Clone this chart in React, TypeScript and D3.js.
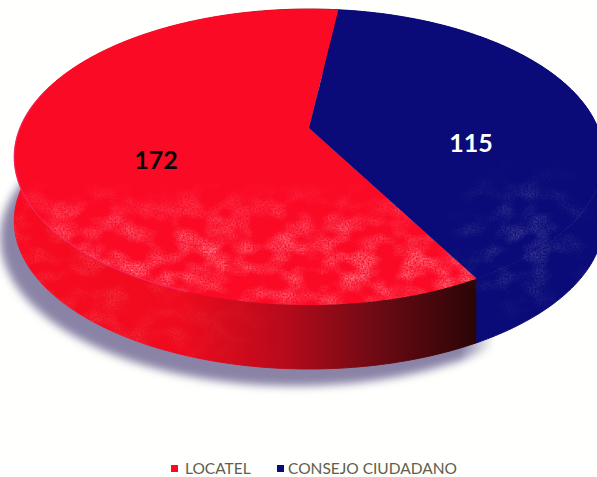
import React from "react";
import * as d3 from "d3";

const categories = ["CONSEJO CIUDADANO", "LOCATEL"];
const seriesValues = [115, 172];
const legendOrder = ["LOCATEL", "CONSEJO CIUDADANO"];
const sliceColors: Record<string, string> = { LOCATEL: "#fb0a26", "CONSEJO CIUDADANO": "#0a0a78" };

const WIDTH = 597;
const HEIGHT = 477;
const rad = (deg: number) => (deg * Math.PI) / 180;

// Tilted-disc projection: the far edge shrinks, so the pie's centre sits above the ellipse's.
const CX = 309;
const CY = 128;
const RX = 289;
const RY = 142.3;
const TILT = 0.196;
const DEPTH = 64;

type Pt = [number, number];
const project = (angle: number, r = 1): Pt => {
  const X = r * Math.sin(angle);
  const Y = r * Math.cos(angle);
  const w = 1 + TILT * Y;
  return [CX + (RX * X) / w, CY - (RY * Y) / w];
};
const sweep = (a0: number, a1: number): number[] => [...d3.range(a0, a1, 0.01), a1];
const line = d3.line<Pt>().x((d) => d[0]).y((d) => d[1]);
const down = (p: Pt, dy = DEPTH): Pt => [p[0], p[1] + dy];

const pieLayout = d3
  .pie<number>()
  .sort(null)
  .startAngle(rad(7))
  .endAngle(rad(367));
const slices = pieLayout(seriesValues).map((s, i) => ({ ...s, name: categories[i] }));

const topPath = (a0: number, a1: number) =>
  line([project(0, 0), ...sweep(a0, a1).map((a) => project(a))])! + "Z";
const sidePath = (a0: number, a1: number) => {
  const rim = sweep(a0, a1).map((a) => project(a));
  return line([...rim, ...rim.slice().reverse().map((p) => down(p))])! + "Z";
};
const fullRim = sweep(0, Math.PI * 2).map((a) => project(a));
const baseOutline = line(fullRim.map((p) => down(p)))! + "Z";

const redSlice = slices[1];
const blueSlice = slices[0];
const labelPositions: Record<string, Pt> = { LOCATEL: [156, 169], "CONSEJO CIUDADANO": [471, 152] };

export default function App() {
  return (
    <svg
      width={WIDTH}
      height={HEIGHT}
      viewBox={`0 0 ${WIDTH} ${HEIGHT}`}
      style={{ position: "fixed", left: 0, top: 0, display: "block", background: "#fffffd" }}
    >
      <defs>
        <linearGradient id="redWall" gradientUnits="userSpaceOnUse" x1="20" x2="475" y1="0" y2="0">
          <stop offset="0" stopColor="#f80a20" />
          <stop offset="0.35" stopColor="#f00a1e" />
          <stop offset="0.58" stopColor="#b80a1b" />
          <stop offset="0.78" stopColor="#6e0a14" />
          <stop offset="1" stopColor="#2a0506" />
        </linearGradient>
        <linearGradient id="shadowFade" gradientUnits="userSpaceOnUse" x1="460" x2="495" y1="0" y2="0">
          <stop offset="0" stopColor="#fff" />
          <stop offset="1" stopColor="#000" />
        </linearGradient>
        <mask id="shadowMask" maskUnits="userSpaceOnUse" x="0" y="0" width={WIDTH} height={HEIGHT}>
          <rect width={WIDTH} height={HEIGHT} fill="url(#shadowFade)" />
        </mask>
        <filter id="soft" x="-10%" y="-10%" width="120%" height="120%">
          <feGaussianBlur stdDeviation="4.5" />
        </filter>
        <filter id="mottle" x="0" y="0" width="100%" height="100%">
          <feTurbulence type="fractalNoise" baseFrequency="0.04 0.055" numOctaves="2" seed="11" result="coarse" />
          <feTurbulence type="fractalNoise" baseFrequency="0.6" numOctaves="1" seed="3" result="fine" />
          <feColorMatrix in="coarse" type="matrix" values="0 0 0 0 1  0 0 0 0 1  0 0 0 0 1  2.2 0 0 0 -0.85" result="coarseA" />
          <feColorMatrix in="fine" type="matrix" values="0 0 0 0 1  0 0 0 0 1  0 0 0 0 1  2 0 0 0 -0.45" result="fineA" />
          <feComposite in="fineA" in2="coarseA" operator="in" result="grain" />
          <feGaussianBlur in="grain" stdDeviation="0.7" result="soft" />
          <feComposite in="soft" in2="SourceGraphic" operator="in" />
        </filter>
        <linearGradient id="bandFade" gradientUnits="userSpaceOnUse" x1="0" x2="0" y1="180" y2="315">
          <stop offset="0" stopColor="#000" />
          <stop offset="0.35" stopColor="#bbb" />
          <stop offset="0.7" stopColor="#fff" />
          <stop offset="1" stopColor="#888" />
        </linearGradient>
        <mask id="bandMask" maskUnits="userSpaceOnUse" x="0" y="0" width={WIDTH} height={HEIGHT}>
          <rect width={WIDTH} height={HEIGHT} fill="url(#bandFade)" />
        </mask>
        <linearGradient id="wallFade" gradientUnits="userSpaceOnUse" x1="30" x2="300" y1="0" y2="0">
          <stop offset="0" stopColor="#bbb" />
          <stop offset="1" stopColor="#000" />
        </linearGradient>
        <mask id="wallMask" maskUnits="userSpaceOnUse" x="0" y="0" width={WIDTH} height={HEIGHT}>
          <rect width={WIDTH} height={HEIGHT} fill="url(#wallFade)" />
        </mask>
        <radialGradient id="blueFade" gradientUnits="userSpaceOnUse" cx="525" cy="240" r="90">
          <stop offset="0" stopColor="#fff" />
          <stop offset="1" stopColor="#000" />
        </radialGradient>
        <mask id="blueMask" maskUnits="userSpaceOnUse" x="0" y="0" width={WIDTH} height={HEIGHT}>
          <rect width={WIDTH} height={HEIGHT} fill="url(#blueFade)" />
        </mask>
        <clipPath id="redTopClip">
          <path d={topPath(redSlice.startAngle, redSlice.endAngle)} />
        </clipPath>
        <clipPath id="redWallClip">
          <path d={sidePath(redSlice.startAngle, redSlice.endAngle)} />
        </clipPath>
      </defs>

      {/* soft cast shadow under the disc */}
      <g mask="url(#shadowMask)">
        <path d={baseOutline} transform="translate(-14,17)" fill="#8a83a6" filter="url(#soft)" />
      </g>

      {/* extruded walls; the thin stroke closes the seam against the top faces */}
      <path
        d={sidePath(redSlice.startAngle, redSlice.endAngle)}
        fill="url(#redWall)"
        stroke="url(#redWall)"
        strokeWidth="1"
      />
      <path
        d={sidePath(blueSlice.startAngle, blueSlice.endAngle)}
        fill={sliceColors["CONSEJO CIUDADANO"]}
        stroke={sliceColors["CONSEJO CIUDADANO"]}
        strokeWidth="1"
      />
      <g clipPath="url(#redWallClip)">
        <g mask="url(#wallMask)">
          <rect x="0" y="190" width="320" height="190" fill="#eec0a0" opacity="0.3" filter="url(#mottle)" />
        </g>
      </g>

      {/* top faces */}
      <path d={topPath(redSlice.startAngle, redSlice.endAngle)} fill={sliceColors.LOCATEL} />
      <path d={topPath(blueSlice.startAngle, blueSlice.endAngle)} fill={sliceColors["CONSEJO CIUDADANO"]} />

      {/* scattered light ink on the lower part of each face */}
      <g clipPath="url(#redTopClip)">
        <g mask="url(#bandMask)">
          <rect x="0" y="170" width={WIDTH} height="150" fill="#f0c0a8" opacity="0.55" filter="url(#mottle)" />
        </g>
      </g>
      <g mask="url(#blueMask)">
        <rect x="430" y="160" width="167" height="160" fill="#2a44b0" opacity="0.3" filter="url(#mottle)" />
      </g>

      {/* pink highlight along the front rim */}
      <path
        d={line(sweep(rad(200), rad(285)).map((a) => project(a)))!}
        fill="none"
        stroke="#f0388c"
        strokeWidth="1.3"
        opacity="0.45"
      />

      {/* value labels */}
      {slices.map((s) => (
        <text
          key={s.name}
          x={labelPositions[s.name][0]}
          y={labelPositions[s.name][1]}
          textAnchor="middle"
          fontFamily="Lato, 'Open Sans', sans-serif"
          fontWeight="700"
          fontSize="25"
          fill={s.name === "LOCATEL" ? "#0a0505" : "#ffffff"}
        >
          {s.value}
        </text>
      ))}

      {/* legend */}
      {legendOrder.map((name, i) => {
        const swatchX = [171, 277][i];
        const textX = [185, 288][i];
        return (
          <g key={name}>
            <rect x={swatchX} y={465} width={7} height={7} fill={sliceColors[name]} />
            <text
              x={textX}
              y={474}
              fontFamily="Lato, 'Open Sans', sans-serif"
              fontSize="15.5"
              fill="#60604a"
            >
              {name}
            </text>
          </g>
        );
      })}
    </svg>
  );
}
